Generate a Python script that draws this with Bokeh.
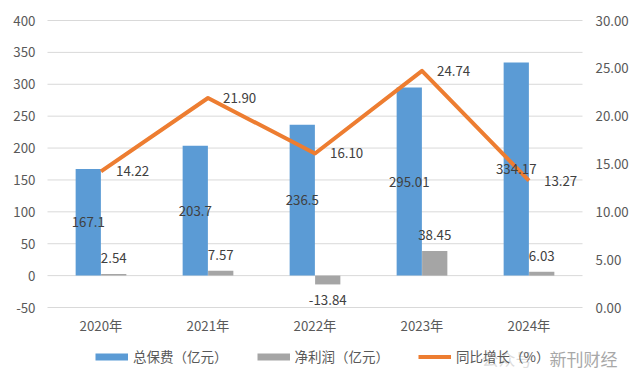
from bokeh.plotting import figure
from bokeh.models import ColumnDataSource, Range1d, Legend, LegendItem, Label
from bokeh.core.properties import value
from bokeh.embed import file_html
from bokeh.resources import INLINE

# ---- data ----
years = ["2020年", "2021年", "2022年", "2023年", "2024年"]
premium = [167.1, 203.7, 236.5, 295.01, 334.17]
profit = [2.54, 7.57, -13.84, 38.45, 6.03]
growth = [14.22, 21.90, 16.10, 24.74, 13.27]
premium_labels = ["167.1", "203.7", "236.5", "295.01", "334.17"]
profit_labels = ["2.54", "7.57", "-13.84", "38.45", "6.03"]
growth_labels = ["14.22", "21.90", "16.10", "24.74", "13.27"]
left_ticks = [-50, 0, 50, 100, 150, 200, 250, 300, 350, 400]
right_ticks = [0, 5, 10, 15, 20, 25, 30]
series_names = ["总保费（亿元）", "净利润（亿元）", "同比增长（%）"]

BLUE = "#5B9BD5"
GRAY = "#A5A5A5"
ORANGE = "#ED7D31"
GRID = "#D9D9D9"
FONT = "Noto Sans CJK SC"
TICK_COLOR = "#595959"
LABEL_COLOR = "#404040"
FS = "13.3px"

# ---- layout (pixels) ----
W, H = 632, 377
TOP, BOTTOM, LEFT, RIGHT = 20, 307, 47, 582   # plot area in canvas pixels
n = len(years)
xs = [i + 0.5 for i in range(n)]              # category centres
BAR_W = 0.236
DX = 0.119

ux = (RIGHT - LEFT) / n
lmin, lmax = left_ticks[0], left_ticks[-1]
rmin, rmax = right_ticks[0], right_ticks[-1]
uly = (BOTTOM - TOP) / (lmax - lmin)
ury = (BOTTOM - TOP) / (rmax - rmin)

src = ColumnDataSource(dict(
    x=xs, xb=[x - DX for x in xs], xg=[x + DX for x in xs],
    year=years, premium=premium, profit=profit, growth=growth,
    premium_mid=[v / 2 for v in premium],
    premium_label=premium_labels, profit_label=profit_labels, growth_label=growth_labels,
    profit_off=[-16 if v >= 0 else 16 for v in profit],
    base=[lmin] * n,
))
lsrc = ColumnDataSource(dict(y=left_ticks, t=[str(v) for v in left_ticks]))
rsrc = ColumnDataSource(dict(y=right_ticks, t=["%.2f" % v for v in right_ticks]))

p = figure(width=W, height=H,
           x_range=Range1d(-LEFT / ux, (W - LEFT) / ux),
           y_range=Range1d(lmin - (H - BOTTOM) / uly, lmax + TOP / uly),
           x_axis_type=None, y_axis_type=None,
           output_backend="svg", toolbar_location=None, title=None,
           min_border=0)
p.extra_y_ranges = {"right": Range1d(rmin - (H - BOTTOM) / ury, rmax + TOP / ury)}
p.outline_line_color = None
p.background_fill_color = "white"
p.border_fill_color = "white"
p.grid.visible = False

# gridlines across the plot area
p.segment(x0=0, x1=n, y0="y", y1="y", source=lsrc, line_color=GRID, line_width=1)

# axis tick labels
p.text(x=0, y="y", text="t", source=lsrc, x_offset=-12, text_align="right",
       text_baseline="middle", text_font=value(FONT), text_font_size=FS,
       text_color=TICK_COLOR)
p.text(x=n, y="y", text="t", source=rsrc, y_range_name="right", x_offset=13,
       text_align="left", text_baseline="middle", text_font=value(FONT),
       text_font_size=FS, text_color=TICK_COLOR)
p.text(x="x", y="base", text="year", y_offset=18, source=src, text_align="center",
       text_baseline="middle", text_font=value(FONT), text_font_size=FS,
       text_color=TICK_COLOR)

# bars
p.vbar(x="xb", top="premium", bottom=0, width=BAR_W, source=src,
       fill_color=BLUE, line_color=None)
p.vbar(x="xg", top="profit", bottom=0, width=BAR_W, source=src,
       fill_color=GRAY, line_color=None)

# line
line_r = p.line(x="x", y="growth", y_range_name="right", source=src,
                line_color=ORANGE, line_width=4, line_join="round")

# data labels
txt = dict(text_font=value(FONT), text_font_size=FS, text_color=LABEL_COLOR,
           text_baseline="middle")
p.text(x="xb", y="premium_mid", text="premium_label", source=src,
       text_align="center", **txt)
p.text(x="xg", y="profit", text="profit_label", y_offset="profit_off", source=src,
       text_align="center", **txt)
p.text(x="x", y="growth", text="growth_label", y_range_name="right", x_offset=15,
       source=src, text_align="left", **txt)

# legend (proxy strokes for the bar series)
nan = float("nan")
r1 = p.line(x=xs, y=[nan] * n, line_color=BLUE, line_width=7)
r2 = p.line(x=xs, y=[nan] * n, line_color=GRAY, line_width=7)
legend = Legend(items=[LegendItem(label=series_names[0], renderers=[r1]),
                       LegendItem(label=series_names[1], renderers=[r2]),
                       LegendItem(label=series_names[2], renderers=[line_r])],
                orientation="horizontal", location=(95, H - 366),
                glyph_width=33, glyph_height=17, label_height=17, label_standoff=5,
                spacing=29, padding=0, margin=0, border_line_color=None,
                background_fill_alpha=0, label_text_font=FONT,
                label_text_font_size="13.5px", label_text_color=TICK_COLOR)
p.add_layout(legend)

# watermark
p.add_layout(Label(x=481, y=358, x_units="canvas", y_units="canvas", text="公众号",
                   text_font=FONT, text_font_size="17px", text_color="#A8A8A8",
                   text_alpha=0.4, text_baseline="middle"))
p.add_layout(Label(x=549, y=358, x_units="canvas", y_units="canvas", text="新刊财经",
                   text_font=FONT, text_font_size="17px", text_color="#A8A8A8",
                   text_baseline="middle"))

open("out.html", "w").write(file_html(p, INLINE))
